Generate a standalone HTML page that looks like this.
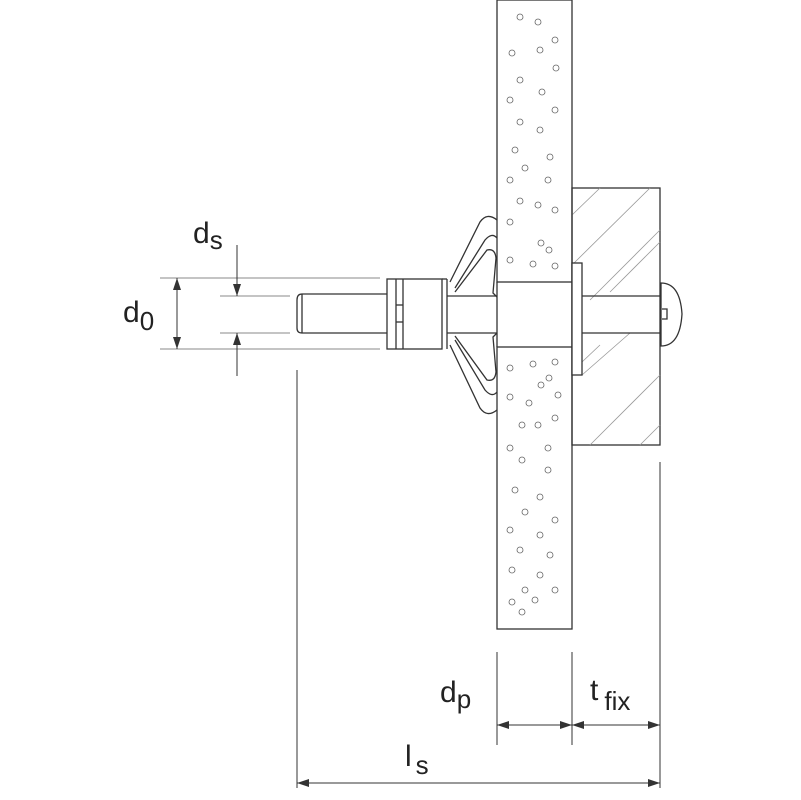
<!DOCTYPE html>
<html><head><style>body{margin:0;background:#fff}svg{display:block}</style></head><body>
<svg width="801" height="800" viewBox="0 0 801 800" xmlns="http://www.w3.org/2000/svg" font-family="Liberation Sans, sans-serif">
<g fill="none" stroke="#333" stroke-width="1.3">
<!-- fixture block -->
<rect x="572" y="188" width="88" height="257"/>
<g stroke="#999" stroke-width="0.8">
<line x1="572" y1="215" x2="600" y2="188"/><line x1="572" y1="265" x2="650" y2="188"/>
<line x1="590" y1="300" x2="660" y2="230"/><line x1="610" y1="292" x2="660" y2="242"/>
<line x1="582" y1="375" x2="630" y2="333"/><line x1="590" y1="445" x2="660" y2="375"/>
<line x1="640" y1="445" x2="660" y2="425"/><line x1="582" y1="362" x2="600" y2="345"/>
</g>
<!-- board -->
<rect x="497" y="0" width="75" height="282"/>
<rect x="497" y="347" width="75" height="282"/>
<line x1="497" y1="282" x2="497" y2="347"/><line x1="572" y1="282" x2="572" y2="347"/>
<!-- washer -->
<rect x="572" y="263" width="10" height="112" fill="#fff"/>
<!-- screw -->
<line x1="582" y1="296" x2="660" y2="296"/><line x1="582" y1="333" x2="660" y2="333"/>
<path d="M661 283 Q680 283 682 314 Q680 346 661 346 Z"/>
<path d="M662 309 h5 v10 h-5"/>
<!-- bolt -->
<path d="M387 294 H302 Q297 294 297 300 V328 Q297 333 302 333 H387"/>
<line x1="302" y1="294" x2="302" y2="333"/>
<rect x="387" y="279" width="55" height="70"/>
<line x1="396" y1="279" x2="396" y2="349"/><line x1="403" y1="279" x2="403" y2="349"/>
<line x1="396" y1="305" x2="403" y2="305"/><line x1="396" y1="322" x2="403" y2="322"/>
<line x1="442" y1="279" x2="447" y2="279"/><line x1="447" y1="279" x2="447" y2="349"/>
<!-- wings -->
<path d="M450 282 L480 222 Q487 212 497 220"/>
<path d="M455 288 L485 240 Q492 232 497 238"/>
<path d="M455 292 L487 250 Q495 248 496 258 L493 293 L497 297"/>
<path d="M450 345 L480 408 Q487 418 497 410"/>
<path d="M455 340 L485 390 Q492 398 497 392"/>
<path d="M455 336 L487 380 Q495 382 496 372 L493 337 L497 333"/>
<line x1="447" y1="296" x2="497" y2="296"/><line x1="447" y1="333" x2="497" y2="333"/>
</g>
<!-- dots -->
<g fill="none" stroke="#666" stroke-width="0.8">
<circle cx="520" cy="17" r="3"/><circle cx="538" cy="22" r="3"/><circle cx="555" cy="40" r="3"/><circle cx="512" cy="53" r="3"/><circle cx="540" cy="50" r="3"/><circle cx="556" cy="68" r="3"/><circle cx="520" cy="80" r="3"/><circle cx="542" cy="92" r="3"/><circle cx="510" cy="100" r="3"/><circle cx="555" cy="110" r="3"/><circle cx="520" cy="122" r="3"/><circle cx="540" cy="130" r="3"/><circle cx="515" cy="150" r="3"/><circle cx="550" cy="157" r="3"/><circle cx="525" cy="168" r="3"/><circle cx="510" cy="180" r="3"/><circle cx="548" cy="180" r="3"/><circle cx="520" cy="201" r="3"/><circle cx="538" cy="205" r="3"/><circle cx="555" cy="210" r="3"/><circle cx="510" cy="222" r="3"/><circle cx="541" cy="243" r="3"/><circle cx="549" cy="250" r="3"/><circle cx="510" cy="260" r="3"/><circle cx="533" cy="264" r="3"/><circle cx="555" cy="266" r="3"/>
<circle cx="510" cy="368" r="3"/><circle cx="533" cy="364" r="3"/><circle cx="555" cy="362" r="3"/><circle cx="541" cy="385" r="3"/><circle cx="549" cy="378" r="3"/><circle cx="510" cy="397" r="3"/><circle cx="529" cy="403" r="3"/><circle cx="558" cy="395" r="3"/><circle cx="522" cy="425" r="3"/><circle cx="538" cy="425" r="3"/><circle cx="555" cy="418" r="3"/><circle cx="510" cy="448" r="3"/><circle cx="548" cy="448" r="3"/><circle cx="522" cy="460" r="3"/><circle cx="548" cy="470" r="3"/><circle cx="515" cy="490" r="3"/><circle cx="540" cy="497" r="3"/><circle cx="525" cy="512" r="3"/><circle cx="555" cy="520" r="3"/><circle cx="510" cy="530" r="3"/><circle cx="540" cy="535" r="3"/><circle cx="520" cy="550" r="3"/><circle cx="550" cy="555" r="3"/><circle cx="512" cy="570" r="3"/><circle cx="540" cy="575" r="3"/><circle cx="525" cy="590" r="3"/><circle cx="555" cy="590" r="3"/><circle cx="512" cy="602" r="3"/><circle cx="535" cy="600" r="3"/><circle cx="522" cy="612" r="3"/>
</g>
<!-- dimension lines -->
<g stroke="#333" stroke-width="1">
<line x1="160" y1="278" x2="380" y2="278" stroke="#888"/><line x1="160" y1="349" x2="380" y2="349" stroke="#888"/>
<line x1="220" y1="296" x2="290" y2="296" stroke="#888"/><line x1="220" y1="333" x2="290" y2="333" stroke="#888"/>
<line x1="177" y1="278" x2="177" y2="349"/>
<line x1="237" y1="245" x2="237" y2="296"/><line x1="237" y1="333" x2="237" y2="376"/>
<line x1="297" y1="370" x2="297" y2="788"/>
<line x1="660" y1="462" x2="660" y2="788"/>
<line x1="497" y1="652" x2="497" y2="745"/><line x1="572" y1="652" x2="572" y2="745"/>
<line x1="497" y1="725" x2="660" y2="725"/>
<line x1="297" y1="783" x2="660" y2="783"/>
</g>
<g fill="#333">
<path d="M177 278 l-4 12 h8z"/><path d="M177 349 l-4 -12 h8z"/>
<path d="M237 296 l-4 -12 h8z"/><path d="M237 333 l-4 12 h8z"/>
<path d="M497 725 l12 -4 v8z"/><path d="M572 725 l-12 -4 v8z"/>
<path d="M572 725 l12 -4 v8z"/><path d="M660 725 l-12 -4 v8z"/>
<path d="M297 783 l12 -4 v8z"/><path d="M660 783 l-12 -4 v8z"/>
</g>
<g fill="#222" font-size="30">
<text x="193" y="243">d<tspan font-size="26" dy="6">s</tspan></text>
<text x="123" y="322">d<tspan font-size="26" dy="8">0</tspan></text>
<text x="440" y="702">d<tspan font-size="26" dy="6">p</tspan></text>
<text x="590" y="700">t<tspan font-size="26" dx="6" dy="10">fix</tspan></text>
<text x="405" y="766">l<tspan font-size="26" dx="4" dy="8">s</tspan></text>
</g>
</svg>
</body></html>
